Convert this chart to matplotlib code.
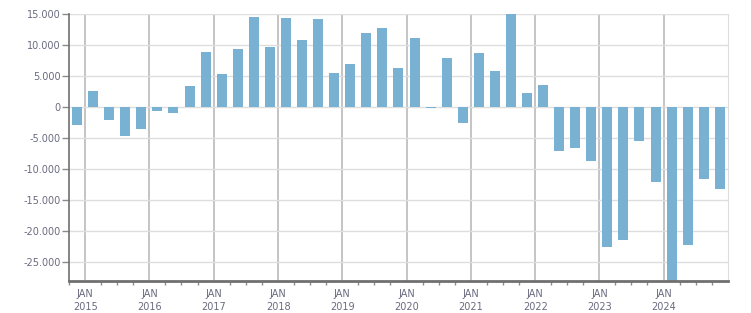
import numpy as np
import pandas as pd
import matplotlib
matplotlib.use("Agg")
import matplotlib.pyplot as plt
import matplotlib.dates as mdates
from matplotlib.ticker import FuncFormatter

# quarterly values, Q4 2014 .. Q4 2024 (bars sit in the middle of each quarter)
quarters = pd.period_range("2014Q4", "2024Q4", freq="Q")
values = [
    -2800, 2600, -2000, -4700, -3500, -600, -900, 3400, 8900, 5400,
    9400, 14500, 9700, 14400, 10800, 14200, 5500, 7000, 11900, 12700,
    6300, 11100, -100, 7900, -2500, 8700, 5800, 15000, 2300, 3600,
    -7100, -6500, -8600, -22600, -21400, -5500, -12000, -28500, -22200, -11600,
    -13200,
]
yticks = [15000, 10000, 5000, 0, -5000, -10000, -15000, -20000, -25000]

# mid-quarter dates
starts = quarters.start_time
ends = quarters.end_time
centers = starts + (ends - starts) / 2

fig = plt.figure(figsize=(7.51, 3.13), dpi=100)
ax = fig.add_axes([69 / 751, 1 - 281 / 313, 659 / 751, 267 / 313])

ax.bar(centers, values, width=57, color="#79b1d3", zorder=3)

ax.set_xlim(pd.Timestamp("2014-10-01"), pd.Timestamp("2024-12-31 12:00"))
ax.set_ylim(-28000, 15000)

# y axis
ax.set_yticks(yticks)
ax.yaxis.set_major_formatter(FuncFormatter(lambda v, p: f"{int(v):,}".replace(",", ".")))
ax.tick_params(axis="y", length=5, width=1, color="#8c8c8c", pad=1,
               labelsize=7, labelcolor="#6a6a80")
ax.grid(axis="y", color="#dedede", linewidth=1, zorder=0)

# x axis
ax.xaxis.set_major_locator(mdates.YearLocator())
ax.xaxis.set_minor_locator(mdates.MonthLocator(bymonth=[4, 7, 10]))
ax.xaxis.set_major_formatter(FuncFormatter(
    lambda v, p: "JAN\n" + mdates.num2date(v).strftime("%Y")))
ax.tick_params(axis="x", which="major", length=0, pad=6,
               labelsize=7, labelcolor="#6a6a80")
ax.tick_params(axis="x", which="minor", length=3, width=1, color="#8c8c8c")
ax.grid(axis="x", which="major", color="#b4b4b4", linewidth=1.1, zorder=1)
for lbl in ax.get_xticklabels():
    lbl.set_linespacing(1.35)

ax.spines["top"].set_visible(False)
ax.spines["right"].set_color("#dedede")
ax.spines["left"].set_color("#707070")
ax.spines["left"].set_linewidth(1.2)
ax.spines["bottom"].set_color("#707070")
ax.spines["bottom"].set_linewidth(2)
ax.spines["bottom"].set_zorder(5)

fig.savefig("out.png", dpi=100)
